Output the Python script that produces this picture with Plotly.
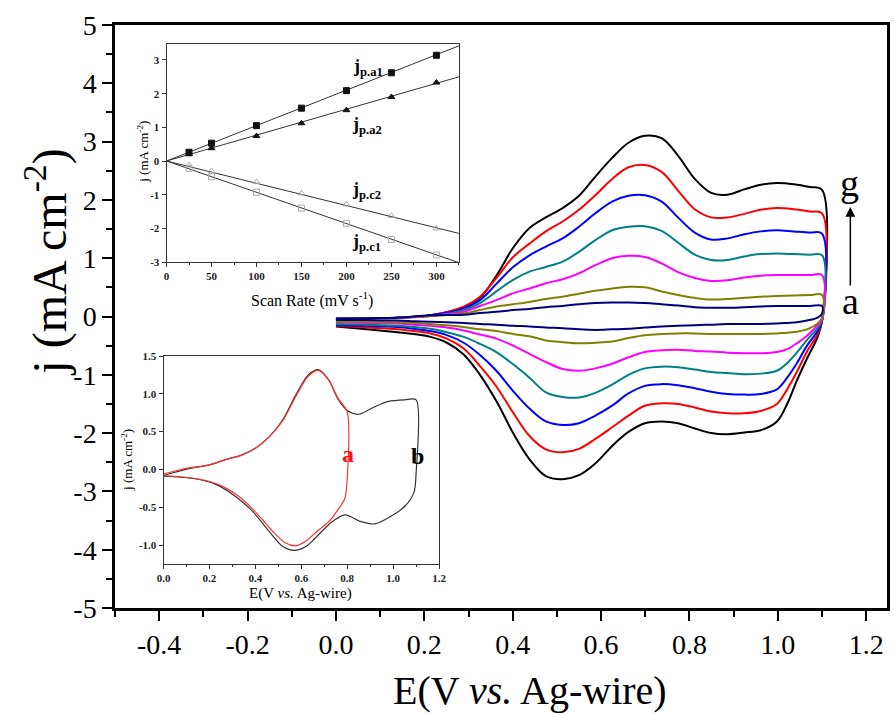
import plotly.graph_objects as go

W, H = 894, 715
L, R, T, B = 115, 0, 25, 107
FONT = "Liberation Serif"

# ---------------- main CV data (E in V, j in mA cm^-2) ----------------
E_fwd = [0.000, 0.070, 0.139, 0.214, 0.289, 0.326, 0.363, 0.401, 0.438, 0.475, 0.513, 0.550, 0.587,
         0.625, 0.662, 0.699, 0.737, 0.774, 0.812, 0.849, 0.886, 0.924, 0.961, 0.998, 1.036, 1.073, 1.100]
E_rev = [1.100, 1.090, 1.066, 1.043, 1.021, 0.998, 0.961, 0.924, 0.886, 0.849, 0.812, 0.774, 0.737,
         0.699, 0.662, 0.625, 0.587, 0.550, 0.513, 0.475, 0.438, 0.401, 0.363, 0.326, 0.289, 0.251,
         0.214, 0.176, 0.139, 0.070, 0.000]

j_g_fwd = [-0.04, -0.03, -0.02, 0.02, 0.16, 0.32, 0.70, 1.18, 1.52, 1.70, 1.86, 2.07, 2.40, 2.72,
           2.98, 3.10, 3.06, 2.76, 2.36, 2.12, 2.09, 2.18, 2.26, 2.29, 2.27, 2.22, 2.17]
j_f_fwd = [-0.04, -0.03, -0.02, 0.02, 0.17, 0.34, 0.66, 1.02, 1.25, 1.46, 1.63, 1.83, 2.08, 2.36,
           2.56, 2.60, 2.48, 2.16, 1.84, 1.70, 1.70, 1.76, 1.83, 1.86, 1.84, 1.80, 1.77]
j_e_fwd = [-0.04, -0.03, -0.02, 0.02, 0.14, 0.28, 0.56, 0.85, 1.05, 1.20, 1.34, 1.54, 1.77, 1.97,
           2.07, 2.08, 1.97, 1.70, 1.44, 1.32, 1.34, 1.41, 1.46, 1.48, 1.46, 1.44, 1.42]
j_d_fwd = [-0.04, -0.03, -0.02, 0.01, 0.11, 0.23, 0.43, 0.63, 0.77, 0.85, 0.94, 1.11, 1.31, 1.48,
           1.54, 1.55, 1.47, 1.27, 1.06, 0.97, 0.97, 1.03, 1.07, 1.08, 1.07, 1.06, 1.05]
j_c_fwd = [-0.04, -0.03, -0.02, 0.01, 0.08, 0.18, 0.28, 0.40, 0.48, 0.57, 0.64, 0.74, 0.88, 1.00,
           1.04, 1.02, 0.91, 0.76, 0.66, 0.61, 0.62, 0.67, 0.70, 0.71, 0.71, 0.71, 0.71]
j_b_fwd = [-0.04, -0.03, -0.02, 0.01, 0.05, 0.11, 0.17, 0.21, 0.25, 0.30, 0.34, 0.39, 0.44, 0.48,
           0.51, 0.50, 0.43, 0.37, 0.32, 0.29, 0.30, 0.32, 0.34, 0.35, 0.36, 0.37, 0.37]
j_a_fwd = [-0.04, -0.03, -0.02, 0.02, 0.03, 0.06, 0.08, 0.11, 0.13, 0.16, 0.18, 0.21, 0.23, 0.24,
           0.24, 0.23, 0.21, 0.19, 0.16, 0.15, 0.15, 0.16, 0.17, 0.18, 0.18, 0.18, 0.18]

j_g_rev = [-0.06, -0.35, -0.72, -1.10, -1.50, -1.80, -1.95, -1.99, -2.02, -2.00, -1.92, -1.83, -1.80,
           -1.83, -1.98, -2.22, -2.52, -2.72, -2.79, -2.74, -2.45, -2.00, -1.45, -1.00, -0.65, -0.45,
           -0.35, -0.30, -0.27, -0.22, -0.17]
j_f_rev = [-0.08, -0.30, -0.60, -0.95, -1.25, -1.50, -1.62, -1.66, -1.66, -1.63, -1.56, -1.50, -1.49,
           -1.53, -1.70, -1.90, -2.10, -2.27, -2.33, -2.28, -2.05, -1.65, -1.20, -0.85, -0.55, -0.38,
           -0.29, -0.25, -0.22, -0.19, -0.16]
j_e_rev = [-0.08, -0.25, -0.50, -0.80, -1.05, -1.25, -1.33, -1.34, -1.33, -1.29, -1.23, -1.18, -1.16,
           -1.19, -1.32, -1.53, -1.70, -1.83, -1.86, -1.80, -1.58, -1.28, -0.93, -0.66, -0.45, -0.32,
           -0.25, -0.21, -0.18, -0.16, -0.15]
j_d_rev = [-0.06, -0.20, -0.40, -0.62, -0.80, -0.93, -0.98, -0.99, -0.97, -0.95, -0.91, -0.87, -0.86,
           -0.89, -1.00, -1.17, -1.31, -1.39, -1.38, -1.30, -1.05, -0.82, -0.61, -0.47, -0.35, -0.27,
           -0.21, -0.18, -0.16, -0.14, -0.13]
j_c_rev = [-0.05, -0.15, -0.33, -0.46, -0.56, -0.61, -0.63, -0.63, -0.62, -0.60, -0.59, -0.57, -0.58,
           -0.61, -0.70, -0.81, -0.89, -0.93, -0.90, -0.78, -0.64, -0.50, -0.38, -0.31, -0.24, -0.19,
           -0.16, -0.14, -0.12, -0.11, -0.10]
j_b_rev = [-0.02, -0.12, -0.22, -0.26, -0.28, -0.29, -0.30, -0.30, -0.30, -0.30, -0.29, -0.29, -0.30,
           -0.32, -0.37, -0.43, -0.45, -0.46, -0.44, -0.41, -0.34, -0.30, -0.25, -0.22, -0.18, -0.15,
           -0.13, -0.11, -0.10, -0.09, -0.09]
j_a_rev = [0.05, -0.02, -0.07, -0.10, -0.11, -0.12, -0.13, -0.13, -0.13, -0.14, -0.15, -0.16, -0.17,
           -0.19, -0.21, -0.22, -0.23, -0.22, -0.20, -0.19, -0.17, -0.16, -0.14, -0.13, -0.11, -0.10,
           -0.09, -0.08, -0.07, -0.06, -0.06]

curve_names = ["g", "f", "e", "d", "c", "b", "a"]
curve_colors = ["#000000", "#ff0000", "#0000ff", "#008080", "#ff00ff", "#808000", "#000080"]
curve_fwd = [j_g_fwd, j_f_fwd, j_e_fwd, j_d_fwd, j_c_fwd, j_b_fwd, j_a_fwd]
curve_rev = [j_g_rev, j_f_rev, j_e_rev, j_d_rev, j_c_rev, j_b_rev, j_a_rev]

main_xticks = [-0.4, -0.2, 0.0, 0.2, 0.4, 0.6, 0.8, 1.0, 1.2]
main_xlabels = ["-0.4", "-0.2", "0.0", "0.2", "0.4", "0.6", "0.8", "1.0", "1.2"]
main_xminor = [-0.5, -0.3, -0.1, 0.1, 0.3, 0.5, 0.7, 0.9, 1.1]
main_yticks = [-5, -4, -3, -2, -1, 0, 1, 2, 3, 4, 5]
main_ylabels = ["-5", "-4", "-3", "-2", "-1", "0", "1", "2", "3", "4", "5"]
main_yminor = [-4.5, -3.5, -2.5, -1.5, -0.5, 0.5, 1.5, 2.5, 3.5, 4.5]

# ---------------- top inset: peak current vs scan rate ----------------
scan_rate = [25, 50, 100, 150, 200, 250, 300]
jpa1 = [0.26, 0.53, 1.05, 1.57, 2.09, 2.62, 3.14]
jpa2 = [0.20, 0.38, 0.74, 1.12, 1.51, 1.90, 2.33]
jpc2 = [-0.13, -0.30, -0.62, -0.96, -1.29, -1.63, -2.00]
jpc1 = [-0.22, -0.47, -0.93, -1.40, -1.85, -2.33, -2.79]
fit_x = [0, 325]
fit_a1 = [0, 3.42]
fit_a2 = [0, 2.50]
fit_c2 = [0, -2.15]
fit_c1 = [0, -3.02]
in1_xticks = [0, 50, 100, 150, 200, 250, 300]
in1_xlabels = ["0", "50", "100", "150", "200", "250", "300"]
in1_yticks = [-3, -2, -1, 0, 1, 2, 3]
in1_ylabels = ["-3", "-2", "-1", "0", "1", "2", "3"]

# ---------------- bottom inset: CV a (to 0.8 V) and b (to 1.1 V) ----------------
Ea_fwd = [0.00, 0.11, 0.20, 0.27, 0.34, 0.40, 0.46, 0.52, 0.575, 0.63, 0.675, 0.72, 0.76, 0.80]
ja_fwd = [-0.06, 0.02, 0.06, 0.13, 0.19, 0.28, 0.43, 0.65, 0.96, 1.23, 1.31, 1.18, 0.94, 0.76]
Ea_rev = [0.80, 0.79, 0.76, 0.72, 0.66, 0.62, 0.575, 0.53, 0.47, 0.40, 0.33, 0.24, 0.14, 0.00]
ja_rev = [-0.12, -0.38, -0.53, -0.69, -0.84, -0.95, -1.01, -0.97, -0.80, -0.56, -0.36, -0.20, -0.12, -0.08]
Eb_fwd = [0.00, 0.11, 0.20, 0.27, 0.34, 0.40, 0.46, 0.52, 0.575, 0.63, 0.675, 0.72, 0.76, 0.805,
          0.85, 0.92, 0.98, 1.05, 1.10]
jb_fwd = [-0.08, 0.01, 0.06, 0.13, 0.19, 0.28, 0.43, 0.66, 0.98, 1.25, 1.32, 1.18, 0.93, 0.77,
          0.73, 0.83, 0.90, 0.92, 0.92]
Eb_rev = [1.10, 1.09, 1.05, 0.99, 0.92, 0.86, 0.79, 0.73, 0.66, 0.62, 0.57, 0.52, 0.46, 0.39,
          0.315, 0.23, 0.13, 0.00]
jb_rev = [-0.05, -0.31, -0.49, -0.62, -0.72, -0.69, -0.60, -0.70, -0.91, -1.02, -1.07, -1.02, -0.82,
          -0.56, -0.36, -0.20, -0.12, -0.09]
in2_xticks = [0.0, 0.2, 0.4, 0.6, 0.8, 1.0, 1.2]
in2_xlabels = ["0.0", "0.2", "0.4", "0.6", "0.8", "1.0", "1.2"]
in2_yticks = [-1.0, -0.5, 0.0, 0.5, 1.0, 1.5]
in2_ylabels = ["-1.0", "-0.5", "0.0", "0.5", "1.0", "1.5"]


def px(x):
    return (x - L) / (W - L - R)


def py(y):
    return (H - B - y) / (H - T - B)


fig = go.Figure()

for name, col, jf, jr in zip(curve_names, curve_colors, curve_fwd, curve_rev):
    fig.add_trace(go.Scatter(
        x=E_fwd + E_rev, y=jf + jr, mode="lines", name=name,
        line=dict(color=col, width=2, shape="spline", smoothing=1.0),
        xaxis="x", yaxis="y", showlegend=False, hoverinfo="skip"))

# top inset
for fy in [fit_a1, fit_a2, fit_c2, fit_c1]:
    fig.add_trace(go.Scatter(x=fit_x, y=fy, mode="lines", line=dict(color="#333333", width=1),
                             xaxis="x2", yaxis="y2", showlegend=False, hoverinfo="skip"))
inset_series = [
    (jpa1, "square", "#111111"),
    (jpa2, "triangle-up", "#111111"),
    (jpc2, "triangle-up-open", "#aaaaaa"),
    (jpc1, "square-open", "#aaaaaa"),
]
for yy, sym, col in inset_series:
    fig.add_trace(go.Scatter(x=scan_rate, y=yy, mode="markers",
                             marker=dict(symbol=sym, size=6, color=col, line=dict(color=col, width=1)),
                             xaxis="x2", yaxis="y2", showlegend=False, hoverinfo="skip"))

# bottom inset
fig.add_trace(go.Scatter(x=Eb_fwd + Eb_rev, y=jb_fwd + jb_rev, mode="lines",
                         line=dict(color="#333333", width=1.2, shape="spline", smoothing=0.8),
                         xaxis="x3", yaxis="y3", showlegend=False, hoverinfo="skip"))
fig.add_trace(go.Scatter(x=Ea_fwd + Ea_rev, y=ja_fwd + ja_rev, mode="lines",
                         line=dict(color="#ff3030", width=1.2, shape="spline", smoothing=0.8),
                         xaxis="x3", yaxis="y3", showlegend=False, hoverinfo="skip"))

main_tick_font = dict(family=FONT, size=28, color="black")
inset_tick_font = dict(family=FONT, size=11, color="#222222", weight="bold")

fig.update_layout(
    width=W, height=H,
    margin=dict(l=L, r=R, t=T, b=B, pad=0),
    paper_bgcolor="white", plot_bgcolor="white",
    showlegend=False,
    xaxis=dict(domain=[0, 1], range=[-0.5, 1.247], tickvals=main_xticks, ticktext=main_xlabels,
               ticks="outside", ticklen=10, tickwidth=2, tickcolor="black",
               minor=dict(tickvals=main_xminor, ticks="outside", ticklen=6, tickwidth=2, tickcolor="black"),
               showline=True, linewidth=2.5, linecolor="black", mirror=True,
               showgrid=False, zeroline=False, tickfont=main_tick_font, anchor="y"),
    yaxis=dict(domain=[0, 1], range=[-5, 5], tickvals=main_yticks, ticktext=main_ylabels,
               ticks="outside", ticklen=10, tickwidth=2, tickcolor="black",
               minor=dict(tickvals=main_yminor, ticks="outside", ticklen=6, tickwidth=2, tickcolor="black"),
               showline=True, linewidth=2.5, linecolor="black", mirror=True,
               showgrid=False, zeroline=False, tickfont=main_tick_font, anchor="x"),
    xaxis2=dict(domain=[px(167), px(462)], range=[0, 325], tickvals=in1_xticks, ticktext=in1_xlabels,
                ticks="outside", ticklen=4, tickwidth=1, tickcolor="#333333",
                minor=dict(dtick=25, tick0=0, ticks="outside", ticklen=2, tickwidth=1, tickcolor="#333333"),
                showline=True, linewidth=1, linecolor="#333333", mirror=True,
                showgrid=False, zeroline=False, tickfont=inset_tick_font, anchor="y2"),
    yaxis2=dict(domain=[py(262), py(44)], range=[-3, 3.475], tickvals=in1_yticks, ticktext=in1_ylabels,
                ticks="outside", ticklen=4, tickwidth=1, tickcolor="#333333",
                showline=True, linewidth=1, linecolor="#333333", mirror=True,
                showgrid=False, zeroline=False, tickfont=inset_tick_font, anchor="x2"),
    xaxis3=dict(domain=[px(164), px(442)], range=[0, 1.2], tickvals=in2_xticks, ticktext=in2_xlabels,
                ticks="outside", ticklen=4, tickwidth=1, tickcolor="#333333",
                minor=dict(dtick=0.1, tick0=0, ticks="outside", ticklen=2, tickwidth=1, tickcolor="#333333"),
                showline=True, linewidth=1, linecolor="#333333", mirror=True,
                showgrid=False, zeroline=False, tickfont=inset_tick_font, anchor="y3"),
    yaxis3=dict(domain=[py(564), py(356)], range=[-1.25, 1.5], tickvals=in2_yticks, ticktext=in2_ylabels,
                ticks="outside", ticklen=4, tickwidth=1, tickcolor="#333333",
                showline=True, linewidth=1, linecolor="#333333", mirror=True,
                showgrid=False, zeroline=False, tickfont=inset_tick_font, anchor="x3"),
)


def ann(text, x, y, size, color="black", angle=0, bold=False):
    fig.add_annotation(text=text, x=px(x), y=py(y), xref="paper", yref="paper",
                       xanchor="center", yanchor="middle", showarrow=False, textangle=angle,
                       font=dict(family=FONT, size=size, color=color,
                                 weight="bold" if bold else "normal"))


ann("E(V <i>vs.</i> Ag-wire)", 534, 690, 40)
ann("j (mA cm<sup>-2</sup>)", 45, 262, 48, angle=-90)
ann("g", 856, 183, 38)
ann("a", 857, 301, 38)
fig.add_annotation(text="", x=px(857), y=py(207), xref="paper", yref="paper", showarrow=True,
                   ax=0, ay=80, arrowhead=2, arrowsize=1.3, arrowwidth=1.5, arrowcolor="black")

ann("Scan Rate (mV s<sup>-1</sup>)", 314, 299, 16)
ann("j (mA cm<sup>-2</sup>)", 143, 152, 13, angle=-90)
ann("<b>j<sub>p.a1</sub></b>", 370, 68, 18)
ann("<b>j<sub>p.a2</sub></b>", 369, 125, 18)
ann("<b>j<sub>p.c2</sub></b>", 369, 191, 18)
ann("<b>j<sub>p.c1</sub></b>", 369, 242, 18)

ann("E(V <i>vs.</i> Ag-wire)", 302, 593, 15)
ann("j (mA cm<sup>-2</sup>)", 127, 460, 13, angle=-90)
ann("a", 350, 454, 24, color="#ff1010", bold=True)
ann("b", 420, 456, 24, bold=True)

fig.write_html("out.html")
